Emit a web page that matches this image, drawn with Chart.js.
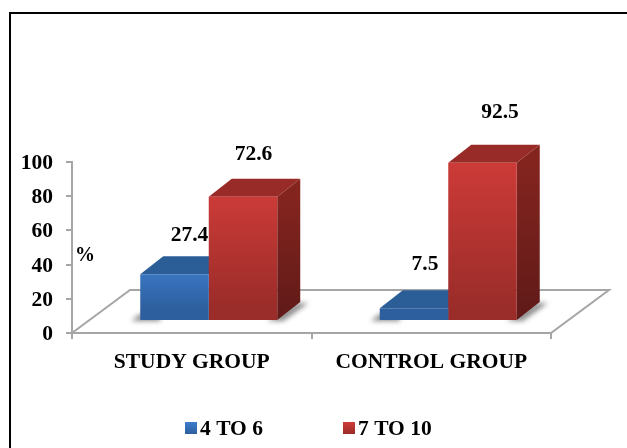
<!DOCTYPE html>
<html><head><meta charset="utf-8">
<style>html,body{margin:0;padding:0;background:#fff}canvas{display:block;filter:blur(0.45px)}</style>
<script src="https://cdn.jsdelivr.net/npm/chart.js@4/dist/chart.umd.js"></script>
</head><body>
<div style="width:627px;height:448px"><canvas id="c" width="627" height="448"></canvas></div>
<script>
const categories = ['STUDY GROUP', 'CONTROL GROUP'];
const seriesNames = ['4 TO 6', '7 TO 10'];
const low = [27.4, 7.5];
const high = [72.6, 92.5];
const yTicks = [0, 20, 40, 60, 80, 100];

const FONT = '"Liberation Serif", "Times New Roman", serif';
const TEXT_SIZE = 21.5;
const DEPTH_X = 23, DEPTH_Y = 18, SHIFT_X = 17, SHIFT_Y = -12;
const labelNudge = [[[15, -38.5], [11, -43.5]], [[10.5, -42.5], [17.5, -50.5]]];
const palette = [
  {top: '#3d7dcc', bottom: '#2d5f9e', lid: '#2b5e97', side: '#24507f'},
  {top: '#d03c39', bottom: '#9a2c29', lid: '#982b28', sideA: '#84241f', sideB: '#5f1a18'}
];

function frontFill(i) {
  return ctx => {
    const sc = ctx.chart.scales.y;
    if (!sc || typeof ctx.raw !== 'number') return palette[i].top;
    const top = sc.getPixelForValue(ctx.raw), base = sc.getPixelForValue(0);
    if (!isFinite(top) || !isFinite(base)) return palette[i].top;
    const g = ctx.chart.ctx.createLinearGradient(0, top + SHIFT_Y, 0, base + SHIFT_Y);
    g.addColorStop(0, palette[i].top); g.addColorStop(1, palette[i].bottom);
    return g;
  };
}
function poly(c, pts, fill) {
  c.beginPath(); pts.forEach((p, i) => i ? c.lineTo(p[0], p[1]) : c.moveTo(p[0], p[1]));
  c.closePath(); if (fill) { c.fillStyle = fill; c.fill(); }
}

const scene3d = {
  id: 'scene3d',
  beforeDraw(chart) {
    const c = chart.ctx;
    c.save();
    c.fillStyle = '#fff'; c.fillRect(0, 0, chart.width, chart.height);
    c.strokeStyle = '#000'; c.lineWidth = 2;
    c.beginPath(); c.moveTo(10, 448); c.lineTo(10, 13); c.lineTo(627, 13); c.stroke();
    c.restore();
  },
  beforeDatasetsDraw(chart) {
    const c = chart.ctx, a = chart.chartArea;
    c.save();
    // floor
    c.strokeStyle = '#a6a6a6'; c.lineWidth = 2;
    poly(c, [[a.left, a.bottom], [a.left + 58, a.bottom - 43], [a.right + 58, a.bottom - 43], [a.right, a.bottom]], '#fff');
    c.stroke();
    // shadows, sides and lids
    [0, 1].forEach(ds => {
      chart.getDatasetMeta(ds).data.forEach(el => {
        const l = el.x - el.width / 2 + SHIFT_X, r = el.x + el.width / 2 + SHIFT_X;
        const b = el.base + SHIFT_Y;
        c.save();
        c.filter = 'blur(2.5px)';
        if (ds === 0) poly(c, [[l - 9, b + 1], [l, b - 6], [l + 20, b - 6], [l + 20, b + 1]], '#8a8a8a');
        else poly(c, [[r - 10, b + 1], [r + 6, b + 1], [r + 31, b - 17], [r + 20, b - 17]], '#8a8a8a');
        c.restore();
      });
    });
    [0, 1].forEach(ds => {
      chart.getDatasetMeta(ds).data.forEach(el => {
        const l = el.x - el.width / 2 + SHIFT_X, r = el.x + el.width / 2 + SHIFT_X;
        const t = el.y + SHIFT_Y, b = el.base + SHIFT_Y;
        const g = c.createLinearGradient(0, t, 0, b);
        g.addColorStop(0, palette[1].sideA); g.addColorStop(1, palette[1].sideB);
        poly(c, [[r, t], [r + DEPTH_X, t - DEPTH_Y], [r + DEPTH_X, b - DEPTH_Y], [r, b]], ds ? g : palette[0].side);
        poly(c, [[l, t], [l + DEPTH_X, t - DEPTH_Y], [r + DEPTH_X, t - DEPTH_Y], [r, t]], palette[ds].lid);
      });
    });
    c.restore();
  },
  beforeDatasetDraw(chart) { chart.ctx.save(); chart.ctx.translate(SHIFT_X, SHIFT_Y); },
  afterDatasetDraw(chart) { chart.ctx.restore(); },
  afterDatasetsDraw(chart) {
    const c = chart.ctx;
    c.save();
    c.fillStyle = '#000'; c.textAlign = 'center'; c.textBaseline = 'middle';
    c.font = 'bold ' + TEXT_SIZE + 'px ' + FONT;
    [0, 1].forEach(ds => {
      const values = chart.data.datasets[ds].data;
      chart.getDatasetMeta(ds).data.forEach((el, i) => {
        const n = labelNudge[ds][i];
        c.fillText(values[i].toFixed(1), el.x + SHIFT_X + n[0], el.y + SHIFT_Y + n[1]);
      });
    });
    // legend
    const xs = [185, 343];
    c.textAlign = 'left';
    seriesNames.forEach((name, i) => {
      const g = c.createLinearGradient(0, 422, 0, 434);
      g.addColorStop(0, palette[i].top); g.addColorStop(1, palette[i].bottom);
      c.fillStyle = g; c.fillRect(xs[i], 422, 12, 12);
      c.fillStyle = '#000'; c.fillText(name, xs[i] + 15, 429.5);
    });
    c.textAlign = 'center';
    c.font = 'bold 20px ' + FONT;
    c.fillText('%', 85, 255.5);
    c.restore();
  }
};

new Chart(document.getElementById('c'), {
  type: 'bar',
  data: {
    labels: categories,
    datasets: [
      {label: seriesNames[0], data: low, backgroundColor: frontFill(0)},
      {label: seriesNames[1], data: high, backgroundColor: frontFill(1)}
    ]
  },
  options: {
    responsive: false, animation: false,
    layout: {padding: {left: 0, top: 162, right: 76, bottom: 0}},
    datasets: {bar: {categoryPercentage: 0.572, barPercentage: 1, borderWidth: 0}},
    plugins: {legend: {display: false}, tooltip: {enabled: false}, title: {display: false}},
    scales: {
      x: {
        afterFit: s => { s.height = 115; },
        border: {color: '#a6a6a6', width: 2},
        grid: {drawOnChartArea: false, drawTicks: true, tickLength: 6, color: '#a6a6a6', lineWidth: 2, offset: true},
        ticks: {color: '#000', font: {family: FONT, weight: 'bold', size: TEXT_SIZE}, padding: 11, maxRotation: 0}
      },
      y: {
        min: 0, max: 100,
        afterFit: s => { s.width = 72; },
        afterBuildTicks: s => { s.ticks = yTicks.map(v => ({value: v})); },
        border: {color: '#a6a6a6', width: 2},
        grid: {drawOnChartArea: false, drawTicks: true, tickLength: 6, color: '#a6a6a6', lineWidth: 2},
        ticks: {color: '#000', font: {family: FONT, weight: 'bold', size: TEXT_SIZE}, padding: 13, labelOffset: 1.5}
      }
    }
  },
  plugins: [scene3d]
});
</script>
</body></html>
